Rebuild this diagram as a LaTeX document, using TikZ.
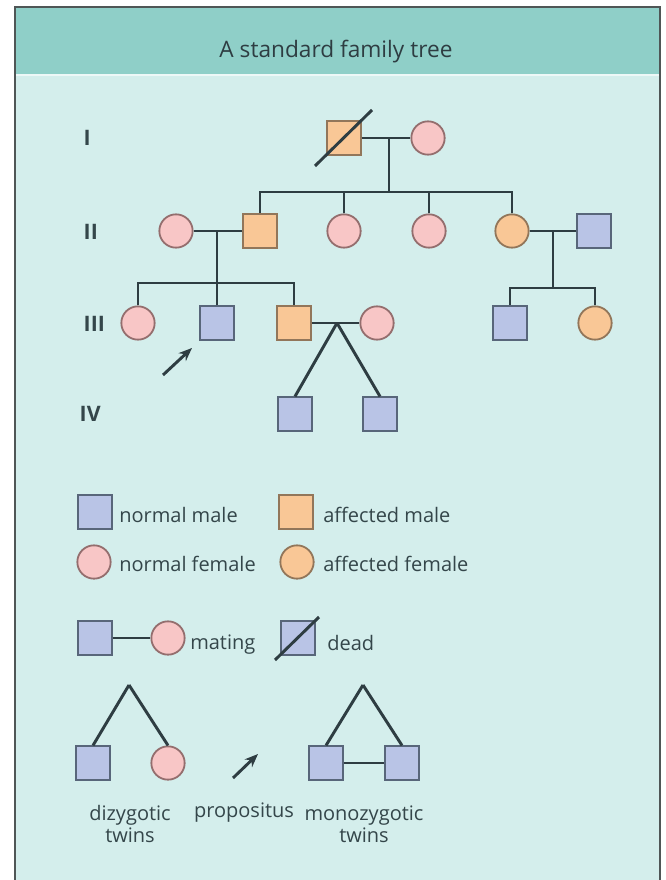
\documentclass[tikz,border=0pt]{standalone}
\usepackage{fontspec}
\setmainfont{Open Sans}
\usetikzlibrary{calc,arrows.meta}

\definecolor{headteal}{HTML}{8FCFC8}
\definecolor{bodycyan}{HTML}{D4EEEC}
\definecolor{pinkfill}{HTML}{F8C6C6}
\definecolor{pinkline}{HTML}{946E6E}
\definecolor{orangefill}{HTML}{F9C796}
\definecolor{orangeline}{HTML}{92765A}
\definecolor{bluefill}{HTML}{B9C4E6}
\definecolor{blueline}{HTML}{58667A}
\definecolor{inkline}{HTML}{2E3D42}
\definecolor{framegrey}{HTML}{4F5656}
\definecolor{textink}{HTML}{34464A}

\begin{document}
\begin{tikzpicture}[x=0.75pt,y=-0.75pt,
  person/.style={inner sep=0pt, line width=1.35pt},
  male/.style={person, rectangle, minimum size=25pt, fill=bluefill, draw=blueline},
  affmale/.style={person, rectangle, minimum size=25pt, fill=orangefill, draw=orangeline},
  female/.style={person, circle, minimum size=25pt, fill=pinkfill, draw=pinkline},
  afffemale/.style={person, circle, minimum size=25pt, fill=orangefill, draw=orangeline},
  link/.style={draw=inkline, line width=2.2pt},
  slash/.style={draw=inkline, line width=2.2pt},
  pointer/.style={draw=inkline, line width=2.2pt, -{Stealth[length=10pt,width=8pt]}},
  gen/.style={anchor=west, text=textink, font=\fontsize{16}{18}\selectfont\bfseries},
  legtext/.style={anchor=west, text=textink, inner sep=0pt, font=\fontsize{15}{17}\selectfont},
  captext/.style={text=textink, inner sep=0pt, align=center, font=\fontsize{15}{16.5}\selectfont}
]
% page, panel and header band
\useasboundingbox (0,0) rectangle (666,880);
\fill[white] (0,0) rectangle (666,880);
\fill[bodycyan] (15,7) rectangle (660,880);
\fill[headteal] (15,7) rectangle (660,74);
\draw[white, opacity=0.6, line width=1pt] (15,75) -- (660,75);
\draw[framegrey, line width=1.4pt] (15,880) -- (15,7) -- (660,7) -- (660,880);
\node[text=inkline, font=\fontsize{17}{20}\selectfont] (title) at (336,52) {A standard family tree};

% generation numbers
\node[gen] (gI)   at (79,138) {I};
\node[gen] (gII)  at (79,232) {II};
\node[gen] (gIII) at (79,324) {III};
\node[gen] (gIV)  at (75,414) {IV};

% generation I
\node[affmale] (I1) at (344,138) {};
\node[female]  (I2) at (428,138) {};
% generation II
\node[female]    (II1) at (176,231) {};
\node[affmale]   (II2) at (260,231) {};
\node[female]    (II3) at (344,231) {};
\node[female]    (II4) at (429,231) {};
\node[afffemale] (II5) at (512,231) {};
\node[male]      (II6) at (594,231) {};
% generation III
\node[female]    (III1) at (138,323) {};
\node[male]      (III2) at (217,323) {};
\node[affmale]   (III3) at (294,323) {};
\node[female]    (III4) at (377,323) {};
\node[male]      (III5) at (510,323) {};
\node[afffemale] (III6) at (595,323) {};
% generation IV
\node[male] (IV1) at (295,414) {};
\node[male] (IV2) at (380,414) {};

% deceased mark on I1
\coordinate (d1) at ($(I1.center)+(-29,28)$);
\coordinate (d2) at ($(I1.center)+(28,-28)$);
\draw[slash] (d1) -- (d2);

% matings and sibships
\draw[link] (I1) -- (I2);
\coordinate (s1) at (389,192);
\draw[link] (s1 |- I1) -- (s1);
\draw[link] (II2.north) |- (s1) -| (II5.north);
\draw[link] (II3.north) -- (II3.north |- s1);
\draw[link] (II4.north) -- (II4.north |- s1);

\draw[link] (II1) -- (II2);
\coordinate (s2) at (217,283);
\draw[link] (s2 |- II1) -- (s2);
\draw[link] (III1.north) |- (s2) -| (III3.north);
\draw[link] (III2.north) -- (III2.north |- s2);

\draw[link] (II5) -- (II6);
\coordinate (s3) at (553,288);
\draw[link] (s3 |- II5) -- (s3);
\draw[link] (III5.north) |- (s3) -| (III6.north);

\draw[link] (III3) -- (III4);
\coordinate (t1) at (337,323);
\draw[link] (t1) -- (IV1.north);
\draw[link] (t1) -- (IV2.north);

% propositus
\coordinate (pa) at (163,375);
\coordinate (pb) at (192,348);
\draw[pointer] (pa) -- (pb);

% key: symbols
\node[male]      (kM)  at (95,512) {};
\node[legtext]   (kMt) at (119,515) {normal male};
\node[affmale]   (kA)  at (296,512) {};
\node[legtext]   (kAt) at (323,515) {affected male};
\node[female]    (kF)  at (94,562) {};
\node[legtext]   (kFt) at (119,564) {normal female};
\node[afffemale] (kG)  at (297,562) {};
\node[legtext]   (kGt) at (323,564) {affected female};

% key: mating and dead
\node[male]   (mM) at (95,638) {};
\node[female] (mF) at (168,638) {};
\draw[link] (mM) -- (mF);
\node[legtext] (mT) at (190,645) {mating};
\node[male] (dM) at (298,638) {};
\coordinate (e1) at ($(dM.center)+(-23,22)$);
\coordinate (e2) at ($(dM.center)+(21,-21)$);
\draw[slash] (e1) -- (e2);
\node[legtext] (dT) at (327,643) {dead};

% key: twins and propositus
\coordinate (zA) at (129,685);
\node[male]   (z1) at (93,763) {};
\node[female] (z2) at (168,763) {};
\draw[link] (zA) -- (z1.north);
\draw[link] (zA) -- (z2.north);
\node[captext] (zT) at (130,824) {dizygotic\\twins};

\coordinate (qa) at (233,778);
\coordinate (qb) at (258,754);
\draw[pointer] (qa) -- (qb);
\node[captext] (qT) at (244,813) {propositus};

\coordinate (yA) at (363,685);
\node[male] (y1) at (326,763) {};
\node[male] (y2) at (402,763) {};
\draw[link] (yA) -- (y1.north);
\draw[link] (yA) -- (y2.north);
\draw[link] (y1) -- (y2);
\node[captext] (yT) at (364,824) {monozygotic\\twins};
\end{tikzpicture}
\end{document}
